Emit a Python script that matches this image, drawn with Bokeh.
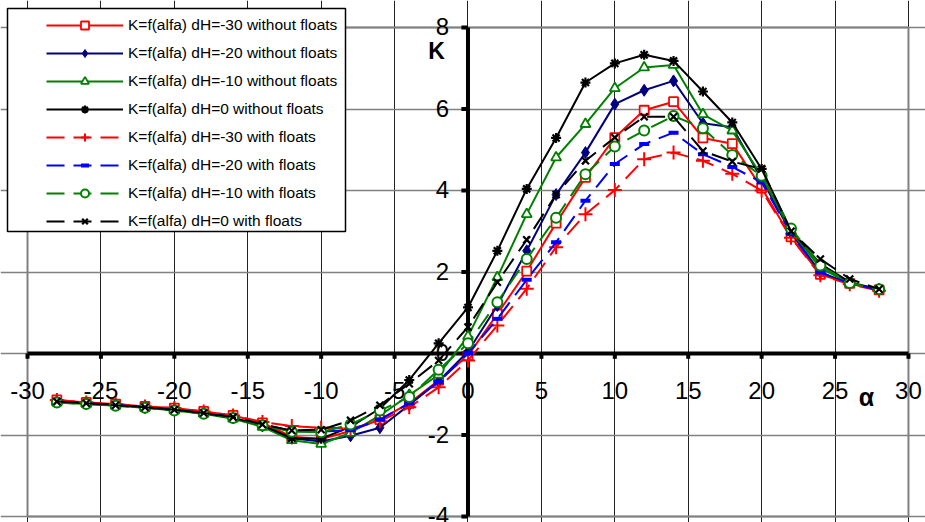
from bokeh.plotting import figure
from bokeh.models import Range1d, Grid, FixedTicker, Legend, LegendItem, Label, BoxAnnotation
from bokeh.embed import file_html
from bokeh.resources import INLINE
from bokeh.core.properties import value

# ---------------- data ----------------
alpha = [-28, -26, -24, -22, -20, -18, -16, -14, -12, -10, -8, -6, -4, -2, 0,
         2, 4, 6, 8, 10, 12, 14, 16, 18, 20, 22, 24, 26, 28]

k_dh_m30_without = [-1.14, -1.20, -1.24, -1.30, -1.34, -1.42, -1.52, -1.70, -2.04, -2.10, -1.90, -1.62, -1.22, -0.66, -0.05,
                    0.97, 2.02, 3.20, 4.32, 5.30, 5.97, 6.18, 5.29, 5.15, 4.06, 2.86, 1.94, 1.72, 1.56]
k_dh_m20_without = [-1.18, -1.22, -1.26, -1.32, -1.38, -1.46, -1.58, -1.78, -2.08, -2.16, -2.02, -1.82, -1.26, -0.68, 0.05,
                    1.18, 2.52, 3.90, 4.93, 6.12, 6.46, 6.69, 5.65, 5.55, 4.28, 2.96, 1.99, 1.72, 1.57]
k_dh_m10_without = [-1.20, -1.24, -1.28, -1.33, -1.40, -1.48, -1.60, -1.80, -2.13, -2.22, -1.95, -1.52, -1.02, -0.52, 0.42,
                    1.87, 3.42, 4.81, 5.63, 6.51, 7.02, 7.08, 5.87, 5.47, 4.36, 3.00, 2.10, 1.72, 1.58]
k_dh_0_without = [-1.18, -1.22, -1.26, -1.32, -1.38, -1.46, -1.58, -1.76, -2.08, -2.09, -1.80, -1.35, -0.65, 0.25, 1.13,
                  2.52, 4.04, 5.29, 6.65, 7.12, 7.33, 7.18, 6.43, 5.67, 4.53, 3.02, 2.20, 1.75, 1.57]
k_dh_m30_with = [-1.14, -1.20, -1.24, -1.30, -1.34, -1.42, -1.52, -1.68, -1.78, -1.82, -1.84, -1.66, -1.32, -0.83, -0.17,
                 0.69, 1.59, 2.61, 3.42, 4.01, 4.77, 4.93, 4.73, 4.41, 4.00, 2.84, 1.92, 1.70, 1.54]
k_dh_m20_with = [-1.18, -1.22, -1.26, -1.32, -1.38, -1.46, -1.56, -1.74, -1.90, -1.92, -1.88, -1.62, -1.22, -0.70, 0.00,
                 0.85, 1.81, 2.73, 3.75, 4.65, 5.14, 5.42, 4.89, 4.58, 4.20, 2.94, 1.99, 1.72, 1.56]
k_dh_m10_with = [-1.20, -1.24, -1.28, -1.33, -1.40, -1.48, -1.58, -1.76, -1.92, -1.93, -1.74, -1.40, -1.07, -0.40, 0.25,
                 1.26, 2.32, 3.33, 4.40, 5.08, 5.47, 5.83, 5.53, 4.87, 4.36, 3.07, 2.16, 1.73, 1.58]
k_dh_0_with = [-1.18, -1.22, -1.27, -1.32, -1.38, -1.46, -1.56, -1.74, -1.89, -1.87, -1.64, -1.27, -0.74, -0.17, 0.65,
               1.75, 2.79, 3.90, 4.73, 5.30, 5.81, 5.81, 4.97, 4.71, 4.53, 3.00, 2.32, 1.83, 1.58]

series_labels = [
    "K=f(alfa) dH=-30 without floats",
    "K=f(alfa) dH=-20 without floats",
    "K=f(alfa) dH=-10 without floats",
    "K=f(alfa) dH=0 without floats",
    "K=f(alfa) dH=-30 with floats",
    "K=f(alfa) dH=-20 with floats",
    "K=f(alfa) dH=-10 with floats",
    "K=f(alfa) dH=0 with floats",
]
series_values = [k_dh_m30_without, k_dh_m20_without, k_dh_m10_without, k_dh_0_without,
                 k_dh_m30_with, k_dh_m20_with, k_dh_m10_with, k_dh_0_with]

x_ticks = [-30, -25, -20, -15, -10, -5, 0, 5, 10, 15, 20, 25, 30]
x_tick_labels = ["-30", "-25", "-20", "-15", "-10", "-5", "0", "5", "10", "15", "20", "25", "30"]
y_ticks = [-4, -2, 0, 2, 4, 6, 8]
y_tick_labels = ["-4", "-2", "0", "2", "4", "6", "8"]

# ---------------- styles ----------------
styles = [
    dict(color="#FF0000", dash="solid", marker="square", size=9, fill="white", lw=1.8),
    dict(color="#000080", dash="solid", marker="diamond", size=12, fill="#000080", lw=1),
    dict(color="#008000", dash="solid", marker="triangle", size=10, fill="white", lw=1.8),
    dict(color="#000000", dash="solid", marker="asterisk", size=10, fill="black", lw=2.2),
    dict(color="#FF0000", dash="18 9", marker="cross", size=14, fill="#FF0000", lw=2),
    dict(color="#0000FF", dash="18 9", marker="dash", size=10, fill="#0000FF", lw=4),
    dict(color="#008000", dash="18 9", marker="circle", size=10, fill="white", lw=2),
    dict(color="#000000", dash="18 9", marker="x", size=10, fill="black", lw=2.2),
]

FONT_NAME = "Liberation Sans"
FONT = value(FONT_NAME)

p = figure(width=925, height=522, output_backend="svg", toolbar_location=None,
           x_range=Range1d(-31.84, 31.16), y_range=Range1d(-4.147, 8.663),
           x_axis_type=None, y_axis_type=None, min_border=0,
           outline_line_color=None, background_fill_color="white",
           border_fill_color="white")

# grid
p.add_layout(Grid(dimension=0, ticker=FixedTicker(ticks=x_ticks),
                  grid_line_color="#222222", grid_line_width=1))
p.add_layout(Grid(dimension=1, ticker=FixedTicker(ticks=y_ticks),
                  grid_line_color="#808080", grid_line_width=1.5))

# plot-area border
p.quad(left=x_ticks[0], right=x_ticks[-1], bottom=y_ticks[0], top=y_ticks[-1],
       fill_color=None, line_color="#808080", line_width=2)

# axes crossing at zero
p.segment(x0=[x_ticks[0], 0], y0=[0, y_ticks[0]], x1=[x_ticks[-1], 0], y1=[0, y_ticks[-1]],
          line_color="black", line_width=4)
p.segment(x0=x_ticks, y0=[0] * len(x_ticks), x1=x_ticks, y1=[-0.13] * len(x_ticks),
          line_color="black", line_width=4)
p.segment(x0=[0] * len(y_ticks), y0=y_ticks, x1=[-0.45] * len(y_ticks), y1=y_ticks,
          line_color="black", line_width=4)

# tick labels
p.text(x=x_ticks, y=[0] * len(x_ticks), text=x_tick_labels, text_align="center",
       text_baseline="middle", y_offset=37, text_font=FONT, text_font_size="24px",
       text_color="black")
p.text(x=[0] * len(y_ticks), y=y_ticks, text=y_tick_labels, text_align="right",
       text_baseline="middle", x_offset=-19, y_offset=-1, text_font=FONT,
       text_font_size="24px", text_color="black")

# series
items = []
for lab, vals, st in zip(series_labels, series_values, styles):
    lr = p.line(alpha, vals, line_color=st["color"], line_width=2, line_dash=st["dash"])
    sr = p.scatter(alpha, vals, marker=st["marker"], size=st["size"], line_color=st["color"],
                   fill_color=st["fill"], line_width=st["lw"])
    items.append(LegendItem(label=lab, renderers=[lr, sr]))

# axis titles
p.add_layout(Label(x=436, y=472, x_units="screen", y_units="screen", text="K",
                   text_font=FONT_NAME, text_font_size="23px", text_font_style="bold",
                   text_color="black", text_align="center", text_baseline="middle"))
p.add_layout(Label(x=866, y=126, x_units="screen", y_units="screen", text="α",
                   text_font=FONT_NAME, text_font_size="25px", text_font_style="bold",
                   text_color="black", text_align="center", text_baseline="middle"))

# legend box + legend
p.add_layout(BoxAnnotation(left=7, right=345, top=8, bottom=231,
                           left_units="canvas", right_units="canvas",
                           top_units="canvas", bottom_units="canvas",
                           fill_color="white", fill_alpha=1.0,
                           line_color="black", line_width=1.5, line_alpha=1.0))
legend = Legend(items=items, location=(46, 291), padding=4, spacing=8, margin=0,
                glyph_width=77, glyph_height=20, label_standoff=5, label_height=20,
                label_text_font=FONT_NAME, label_text_font_size="15.5px",
                label_text_color="black",
                border_line_color=None, background_fill_alpha=0)
p.add_layout(legend)

open("out.html", "w").write(file_html(p, INLINE))
